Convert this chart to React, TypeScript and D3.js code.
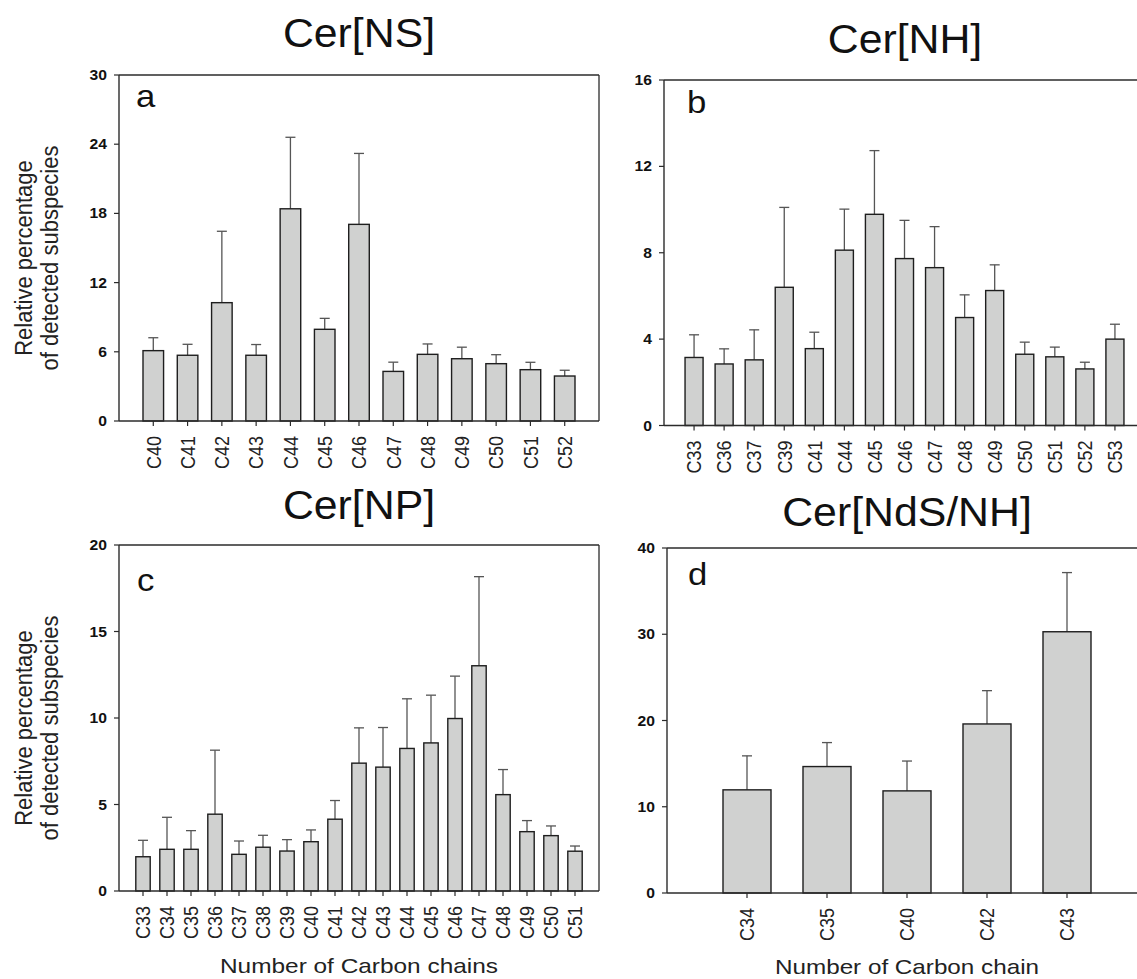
import React from "react";
import * as d3 from "d3";

// Cer[NS]
const nsCats = ["C40", "C41", "C42", "C43", "C44", "C45", "C46", "C47", "C48", "C49", "C50", "C51", "C52"];
const nsMean = [6.1, 5.7, 10.26, 5.7, 18.4, 7.95, 17.05, 4.3, 5.78, 5.4, 4.97, 4.45, 3.9];
const nsSd = [1.12, 0.95, 6.19, 0.93, 6.2, 0.95, 6.15, 0.8, 0.9, 1.0, 0.78, 0.64, 0.5];
const nsTicks = [0, 6, 12, 18, 24, 30];

// Cer[NH]
const nhCats = ["C33", "C36", "C37", "C39", "C41", "C44", "C45", "C46", "C47", "C48", "C49", "C50", "C51", "C52", "C53"];
const nhMean = [3.15, 2.85, 3.04, 6.4, 3.56, 8.12, 9.78, 7.73, 7.31, 5.0, 6.25, 3.3, 3.18, 2.62, 4.0];
const nhSd = [1.05, 0.7, 1.39, 3.7, 0.76, 1.9, 2.95, 1.77, 1.9, 1.05, 1.19, 0.56, 0.45, 0.31, 0.69];
const nhTicks = [0, 4, 8, 12, 16];

// Cer[NP]
const npCats = ["C33", "C34", "C35", "C36", "C37", "C38", "C39", "C40", "C41", "C42", "C43", "C44", "C45", "C46", "C47", "C48", "C49", "C50", "C51"];
const npMean = [1.98, 2.41, 2.41, 4.44, 2.12, 2.53, 2.31, 2.85, 4.15, 7.39, 7.16, 8.24, 8.56, 9.97, 13.02, 5.57, 3.43, 3.2, 2.3];
const npSd = [0.95, 1.85, 1.08, 3.7, 0.77, 0.69, 0.66, 0.68, 1.08, 2.04, 2.29, 2.87, 2.76, 2.45, 5.15, 1.45, 0.64, 0.56, 0.3];
const npTicks = [0, 5, 10, 15, 20];

// Cer[NdS/NH]
const ndsCats = ["C34", "C35", "C40", "C42", "C43"];
const ndsMean = [11.96, 14.66, 11.84, 19.6, 30.29];
const ndsSd = [3.94, 2.78, 3.46, 3.86, 6.86];
const ndsTicks = [0, 10, 20, 30, 40];

const FONT = "'Liberation Sans', Arial, Helvetica, sans-serif";
const AXIS = "#2b2b2b";
const ERR = "#555";
const FILL = "#d0d1d0";
// the source figure is a bit wider than tall in its lettering
const SX = 1.12;

type PanelProps = {
  left: number;
  top: number;
  bottom: number;
  width: number;
  cats: string[];
  mean: number[];
  sd: number[];
  ticks: number[];
  letter: string;
  letterX: number;
  letterY: number;
};

const Panel = ({ left, top, bottom, width, cats, mean, sd, ticks, letter, letterX, letterY }: PanelProps) => {
  const x = d3.scaleLinear().domain([0, cats.length + 1]).range([left, left + width]);
  const y = d3.scaleLinear().domain([0, ticks[ticks.length - 1]]).range([bottom, top]);
  const step = x(1) - x(0);
  const bw = step * 0.6;
  const right = left + width;

  return (
    <g>
      {/* frame */}
      <line x1={left} x2={right} y1={top} y2={top} stroke={AXIS} strokeWidth={1.3} />
      <line x1={right} x2={right} y1={top} y2={bottom} stroke={AXIS} strokeWidth={1.3} />
      <text transform={`translate(${letterX},${letterY}) scale(${SX},1)`} fontSize={31} fontFamily={FONT} fill="#111">
        {letter}
      </text>

      {cats.map((c, i) => {
        const cx = x(i + 1);
        const yt = y(mean[i]);
        const ye = y(mean[i] + sd[i]);
        return (
          <g key={c}>
            <line x1={cx} x2={cx} y1={yt} y2={ye} stroke={ERR} strokeWidth={1.3} />
            <line x1={cx - 5} x2={cx + 5} y1={ye} y2={ye} stroke={ERR} strokeWidth={1.3} />
            <rect x={cx - bw / 2} y={yt} width={bw} height={bottom - yt} fill={FILL} stroke="#1e1e1e" strokeWidth={1.4} />
          </g>
        );
      })}

      {/* y axis */}
      <line x1={left} x2={left} y1={top} y2={bottom} stroke={AXIS} strokeWidth={1.4} />
      {ticks.map((t) => (
        <g key={t}>
          <line x1={left - 5} x2={left} y1={y(t)} y2={y(t)} stroke={AXIS} strokeWidth={1.2} />
          <text
            transform={`translate(${left - 12},${y(t)}) scale(${SX},1)`}
            dy="0.36em"
            textAnchor="end"
            fontSize={14}
            fontWeight="bold"
            fontFamily={FONT}
            fill="#111"
          >
            {t}
          </text>
        </g>
      ))}

      {/* x axis */}
      <line x1={left} x2={right} y1={bottom} y2={bottom} stroke={AXIS} strokeWidth={1.5} />
      {cats.map((c, i) => {
        const cx = x(i + 1);
        return (
          <g key={"t" + c}>
            <line x1={cx} x2={cx} y1={bottom} y2={bottom + 5} stroke={AXIS} strokeWidth={1.2} />
            <text
              transform={`translate(${cx},${bottom + 15}) scale(${SX},1) rotate(-90)`}
              dy="0.36em"
              textAnchor="end"
              fontSize={18}
              fontFamily={FONT}
              fill="#222"
            >
              {c}
            </text>
          </g>
        );
      })}
    </g>
  );
};

const YTitle = ({ cy }: { cy: number }) => (
  <g fontFamily={FONT} fontSize={22} fill="#222" textAnchor="middle">
    <text transform={`translate(32,${cy}) scale(${SX},1) rotate(-90)`}>Relative percentage</text>
    <text transform={`translate(58,${cy}) scale(${SX},1) rotate(-90)`}>of detected subspecies</text>
  </g>
);

const Title = ({ x, y, label }: { x: number; y: number; label: string }) => (
  <text transform={`translate(${x},${y}) scale(1.07,1)`} textAnchor="middle" fontFamily={FONT} fontSize={40} fill="#111">
    {label}
  </text>
);

export default function App() {
  return (
    <div style={{ position: "absolute", left: 0, top: 0 }}>
      <svg width={1137} height={979} style={{ display: "block", background: "#fff" }}>
        <Title x={359} y={47} label="Cer[NS]" />
        <Title x={905} y={53} label="Cer[NH]" />
        <Title x={359} y={519} label="Cer[NP]" />
        <Title x={907} y={526} label="Cer[NdS/NH]" />

        <Panel left={119} top={75} bottom={421} width={480} cats={nsCats} mean={nsMean} sd={nsSd} ticks={nsTicks} letter="a" letterX={136} letterY={107} />
        <Panel left={664} top={80} bottom={425.5} width={481} cats={nhCats} mean={nhMean} sd={nhSd} ticks={nhTicks} letter="b" letterX={687} letterY={113} />
        <Panel left={119} top={545} bottom={891} width={480} cats={npCats} mean={npMean} sd={npSd} ticks={npTicks} letter="c" letterX={137} letterY={591} />
        <Panel left={667} top={548} bottom={893} width={480} cats={ndsCats} mean={ndsMean} sd={ndsSd} ticks={ndsTicks} letter="d" letterX={688} letterY={585} />

        <YTitle cy={258} />
        <YTitle cy={728} />

        <g fontFamily={FONT} fontSize={21} fill="#222" textAnchor="middle">
          <text x={359} y={973} textLength={278} lengthAdjust="spacingAndGlyphs">Number of Carbon chains</text>
          <text x={907} y={974} textLength={264} lengthAdjust="spacingAndGlyphs">Number of Carbon chain</text>
        </g>
      </svg>
    </div>
  );
}
